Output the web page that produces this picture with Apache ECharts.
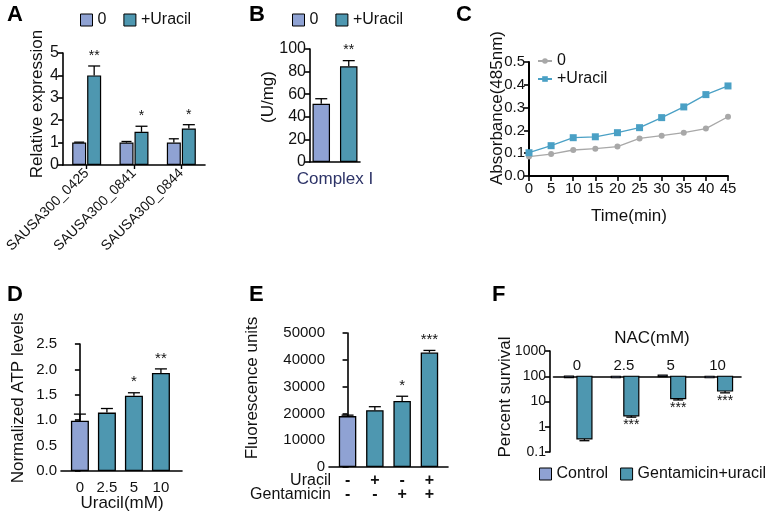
<!DOCTYPE html>
<html><head><meta charset="utf-8">
<script src="https://cdn.jsdelivr.net/npm/echarts@6/dist/echarts.min.js"></script>
<style>html,body{margin:0;padding:0;background:#fff}#c{width:770px;height:519px}</style>
</head><body><div id="c"></div>
<script>
// ---------- DATA ----------
// Panel A
const aCats = ['SAUSA300_0425', 'SAUSA300_0841', 'SAUSA300_0844'];
const aCtrl = [1.0, 1.0, 1.0];
const aCtrlErr = [0.02, 0.05, 0.17];
const aUra = [4.0, 1.48, 1.63];
const aUraErr = [0.42, 0.25, 0.17];
const aSig = ['**', '*', '*'];
// Panel B
const bCats = ['Complex I'];
const bCtrl = [51.5];
const bCtrlErr = [4.5];
const bUra = [84.7];
const bUraErr = [5.0];
const bSig = ['**'];
// Panel C
const cTime = [0, 5, 10, 15, 20, 25, 30, 35, 40, 45];
const cCtrl = [0.085, 0.096, 0.114, 0.12, 0.129, 0.165, 0.177, 0.19, 0.208, 0.26];
const cUra = [0.102, 0.133, 0.168, 0.172, 0.19, 0.212, 0.256, 0.303, 0.357, 0.395];
// Panel D
const dCats = ['0', '2.5', '5', '10'];
const dVals = [0.99, 1.15, 1.48, 1.93];
const dErr = [0.13, 0.08, 0.06, 0.08];
const dSig = ['', '', '*', '**'];
// Panel E
const eUracil = ['-', '+', '-', '+'];
const eGent = ['-', '-', '+', '+'];
const eVals = [19000, 21200, 24600, 42700];
const eErr = [350, 1300, 1800, 800];
const eSig = ['', '', '*', '***'];
// Panel F
const fCats = ['0', '2.5', '5', '10'];
const fCtrl = [102, 97, 110, 88];
const fGent = [0.33, 2.7, 13, 26];
const fGentErr = [0.05, 0.3, 1.5, 4];
const fSig = ['', '***', '***', '***'];

// ---------- STYLE ----------
const FONT = 'Liberation Sans, Arial, sans-serif';
const LIGHT = '#8fa2d3';
const TEAL = '#4e97b0';
const INK = '#111';
const AX = { lineStyle: { color: '#000', width: 1.6 } };
const TK = { show: true, length: 5, lineStyle: { color: '#000', width: 1.6 } };

function errSeries(xi, yi, xs, vals, errs, sigs, offset, dir, cap, sigSize) {
  return {
    type: 'custom', xAxisIndex: xi, yAxisIndex: yi, z: 5, silent: true,
    data: vals.map((v, i) => [xs[i], v, errs[i]]),
    renderItem(params, api) {
      const x = api.value(0), v = api.value(1), e = api.value(2);
      const p0 = api.coord([x, v]);
      const p1 = api.coord([x, dir > 0 ? v + e : v - e]);
      const cx = p0[0] + offset;
      const st = { stroke: '#000', lineWidth: 1.3 };
      const ch = [
        { type: 'line', shape: { x1: cx, y1: p0[1], x2: cx, y2: p1[1] }, style: st },
        { type: 'line', shape: { x1: cx - cap, y1: p1[1], x2: cx + cap, y2: p1[1] }, style: st }
      ];
      const s = sigs ? sigs[params.dataIndex] : '';
      if (s) ch.push({ type: 'text', x: cx, y: dir > 0 ? p1[1] - 3 : p1[1] + 1,
        style: { text: s, fontSize: sigSize, fontFamily: FONT, fill: INK, align: 'center', verticalAlign: dir > 0 ? 'bottom' : 'top' } });
      return { type: 'group', children: ch };
    }
  };
}
function fBars(name, vals, color, off, w) {
  return {
    name, type: 'custom', xAxisIndex: 5, yAxisIndex: 5, z: 3,
    itemStyle: { color },
    data: vals.map((v, i) => [i, v]),
    renderItem(params, api) {
      const x = api.value(0), v = api.value(1);
      const b = api.coord([x, 100]), p = api.coord([x, v]);
      const cx = b[0] + off;
      return { type: 'rect', shape: { x: cx - w / 2, y: Math.min(b[1], p[1]), width: w, height: Math.max(Math.abs(p[1] - b[1]), 1.5) },
        style: { fill: color, stroke: '#000', lineWidth: 1.2 } };
    }
  };
}
const lab = (size) => ({ color: INK, fontSize: size, fontFamily: FONT });
const strip = (n) => n.split('|')[1];

const chart = echarts.init(document.getElementById('c'), null, { renderer: 'canvas' });
const option = {
  animation: false,
  backgroundColor: '#fff',
  textStyle: { fontFamily: FONT, color: INK },
  grid: [
    { left: 63, top: 53, width: 142, height: 112, outerBoundsMode: 'none' },
    { left: 310, top: 49, width: 50, height: 113, outerBoundsMode: 'none' },
    { left: 529, top: 62, width: 199, height: 114, outerBoundsMode: 'none' },
    { left: 61, top: 344, width: 121, height: 127, outerBoundsMode: 'none' },
    { left: 329, top: 333, width: 119, height: 134, outerBoundsMode: 'none' },
    { left: 553.5, top: 351, width: 187.5, height: 101, outerBoundsMode: 'none' }
  ],
  xAxis: [
    { gridIndex: 0, type: 'category', data: aCats, axisLine: AX,
      axisTick: { show: true, alignWithLabel: true, length: 4, lineStyle: { color: '#000', width: 1.4 } },
      axisLabel: Object.assign(lab(14), { rotate: 45, margin: 6, interval: 0 }) },
    { gridIndex: 1, type: 'category', data: bCats, axisLine: AX, axisTick: { show: false },
      axisLabel: { color: '#2e3468', fontSize: 17, fontFamily: FONT, margin: 9 } },
    { gridIndex: 2, type: 'value', min: 0, max: 45, interval: 5, axisLine: { lineStyle: { color: '#000', width: 2 } },
      axisTick: { show: true, length: 5, lineStyle: { color: '#000', width: 1.6 } }, splitLine: { show: false },
      axisLabel: Object.assign(lab(15), { margin: 5 }) },
    { gridIndex: 3, type: 'value', min: -0.7, max: 3.78, axisLine: AX, axisTick: { show: false }, splitLine: { show: false },
      axisLabel: Object.assign(lab(15), { margin: 9, customValues: [0, 1, 2, 3], formatter: (v) => dCats[Math.round(v)] }) },
    { gridIndex: 4, type: 'value', min: -0.68, max: 3.68, axisLine: AX, axisTick: { show: false }, splitLine: { show: false },
      axisLabel: Object.assign(lab(16), { margin: 7, lineHeight: 14, fontWeight: 'bold', customValues: [0, 1, 2, 3],
        formatter: (v) => eUracil[Math.round(v)] + '\n' + eGent[Math.round(v)] }) },
    { gridIndex: 5, type: 'category', data: fCats, position: 'top', offset: -25.25,
      axisLine: { onZero: false, lineStyle: { color: '#000', width: 1.6 } }, axisTick: { show: false },
      axisLabel: Object.assign(lab(15), { margin: 3 }) }
  ],
  yAxis: [
    { gridIndex: 0, type: 'value', min: 0, max: 5, interval: 1, axisLine: Object.assign({ show: true }, AX), axisTick: TK,
      splitLine: { show: false }, axisLabel: Object.assign(lab(16), { margin: 4 }) },
    { gridIndex: 1, type: 'value', min: 0, max: 100, interval: 20, axisLine: Object.assign({ show: true }, AX), axisTick: TK,
      splitLine: { show: false }, axisLabel: Object.assign(lab(16), { margin: 4 }) },
    { gridIndex: 2, type: 'value', min: 0, max: 0.5, interval: 0.1, axisLine: { show: true, lineStyle: { color: '#000', width: 2 } }, axisTick: TK,
      splitLine: { show: false }, axisLabel: Object.assign(lab(15), { margin: 4, formatter: (v) => v.toFixed(1) }) },
    { gridIndex: 3, type: 'value', min: 0, max: 2.5, interval: 0.5, axisLine: Object.assign({ show: true }, AX), axisTick: TK,
      splitLine: { show: false }, axisLabel: Object.assign(lab(15), { margin: 4, formatter: (v) => v.toFixed(1) }) },
    { gridIndex: 4, type: 'value', min: 0, max: 50000, interval: 10000, axisLine: Object.assign({ show: true }, AX), axisTick: TK,
      splitLine: { show: false }, axisLabel: Object.assign(lab(15), { margin: 4, formatter: (v) => String(v) }) },
    { gridIndex: 5, type: 'log', logBase: 10, min: 0.1, max: 1000, offset: 3.5, axisLine: Object.assign({ show: true }, AX), axisTick: TK,
      splitLine: { show: false }, minorTick: { show: false },
      axisLabel: Object.assign(lab(14), { margin: 4, formatter: (v) => String(+(+v).toPrecision(3)) }) }
  ],
  legend: [
    { left: 80, top: 12, padding: 0, itemWidth: 12, itemHeight: 12, itemGap: 17, formatter: strip, textStyle: lab(16), selectedMode: false,
      data: [{ name: 'A|0', icon: 'rect', itemStyle: { color: LIGHT, borderColor: '#000', borderWidth: 1 } },
             { name: 'A|+Uracil', icon: 'rect', itemStyle: { color: TEAL, borderColor: '#000', borderWidth: 1 } }] },
    { left: 292, top: 12, padding: 0, itemWidth: 12, itemHeight: 12, itemGap: 17, formatter: strip, textStyle: lab(16), selectedMode: false,
      data: [{ name: 'B|0', icon: 'rect', itemStyle: { color: LIGHT, borderColor: '#000', borderWidth: 1 } },
             { name: 'B|+Uracil', icon: 'rect', itemStyle: { color: TEAL, borderColor: '#000', borderWidth: 1 } }] },
    { left: 537, top: 53, padding: 0, orient: 'vertical', itemWidth: 14, itemHeight: 7, itemGap: 2, formatter: strip, textStyle: lab(16), selectedMode: false,
      data: ['C|0', 'C|+Uracil'] },
    { left: 539, top: 466, padding: 0, width: 240, itemWidth: 12, itemHeight: 12, itemGap: 12, formatter: strip, textStyle: lab(16), selectedMode: false,
      data: [{ name: 'F|Control', icon: 'rect', itemStyle: { color: LIGHT, borderColor: '#000', borderWidth: 1 } },
             { name: 'F|Gentamicin+uracil', icon: 'rect', itemStyle: { color: TEAL, borderColor: '#000', borderWidth: 1 } }] }
  ],
  series: [
    // A
    { name: 'A|0', type: 'bar', xAxisIndex: 0, yAxisIndex: 0, data: aCtrl, barWidth: 14, barGap: '7%',
      itemStyle: { color: LIGHT, borderColor: '#000', borderWidth: 1.2 } },
    { name: 'A|+Uracil', type: 'bar', xAxisIndex: 0, yAxisIndex: 0, data: aUra, barWidth: 14, barGap: '7%',
      itemStyle: { color: TEAL, borderColor: '#000', borderWidth: 1.2 } },
    errSeries(0, 0, aCats.map((c, i) => i), aCtrl, aCtrlErr, null, -7.5, 1, 5, 14),
    errSeries(0, 0, aCats.map((c, i) => i), aUra, aUraErr, aSig, 7.5, 1, 6, 14),
    // B
    { name: 'B|0', type: 'bar', xAxisIndex: 1, yAxisIndex: 1, data: bCtrl, barWidth: 17.5, barGap: '57%',
      itemStyle: { color: LIGHT, borderColor: '#000', borderWidth: 1.2 } },
    { name: 'B|+Uracil', type: 'bar', xAxisIndex: 1, yAxisIndex: 1, data: bUra, barWidth: 17.5, barGap: '57%',
      itemStyle: { color: TEAL, borderColor: '#000', borderWidth: 1.2 } },
    errSeries(1, 1, [0], bCtrl, bCtrlErr, null, -13.75, 1, 6, 14),
    errSeries(1, 1, [0], bUra, bUraErr, bSig, 13.75, 1, 6, 14),
    // C
    { name: 'C|0', type: 'line', xAxisIndex: 2, yAxisIndex: 2, data: cTime.map((t, i) => [t, cCtrl[i]]),
      symbol: 'circle', symbolSize: 6, lineStyle: { color: '#a8a8a8', width: 1.3 }, itemStyle: { color: '#a8a8a8' } },
    { name: 'C|+Uracil', type: 'line', xAxisIndex: 2, yAxisIndex: 2, data: cTime.map((t, i) => [t, cUra[i]]),
      symbol: 'rect', symbolSize: 7, lineStyle: { color: '#4aa0c5', width: 1.3 }, itemStyle: { color: '#4aa0c5' } },
    // D
    { type: 'bar', xAxisIndex: 3, yAxisIndex: 3, barWidth: 18,
      data: dVals.map((v, i) => ({ value: [i, v], itemStyle: { color: i === 0 ? LIGHT : TEAL } })),
      itemStyle: { borderColor: '#000', borderWidth: 1.3 } },
    errSeries(3, 3, dCats.map((c, i) => i), dVals, dErr, dSig, 0, 1, 6, 15),
    // E
    { type: 'bar', xAxisIndex: 4, yAxisIndex: 4, barWidth: 17.5,
      data: eVals.map((v, i) => ({ value: [i, v], itemStyle: { color: i === 0 ? LIGHT : TEAL } })),
      itemStyle: { borderColor: '#000', borderWidth: 1.3 } },
    errSeries(4, 4, eVals.map((c, i) => i), eVals, eErr, eSig, 0, 1, 6, 15),
    // F
    fBars('F|Control', fCtrl, LIGHT, -8, 9),
    fBars('F|Gentamicin+uracil', fGent, TEAL, 7.5, 15),
    errSeries(5, 5, fCats.map((c, i) => i), fGent, fGentErr, fSig, 7.5, -1, 5, 14)
  ],
  graphic: [
    // panel letters
    { type: 'text', left: 7, top: 4, style: { text: 'A', font: 'bold 22px ' + FONT, fill: '#000' } },
    { type: 'text', left: 249, top: 4, style: { text: 'B', font: 'bold 22px ' + FONT, fill: '#000' } },
    { type: 'text', left: 456, top: 4, style: { text: 'C', font: 'bold 22px ' + FONT, fill: '#000' } },
    { type: 'text', left: 7, top: 284, style: { text: 'D', font: 'bold 22px ' + FONT, fill: '#000' } },
    { type: 'text', left: 249, top: 284, style: { text: 'E', font: 'bold 22px ' + FONT, fill: '#000' } },
    { type: 'text', left: 492, top: 284, style: { text: 'F', font: 'bold 22px ' + FONT, fill: '#000' } },
    // axis titles
    { type: 'text', x: 37, y: 104, rotation: Math.PI / 2, style: { text: 'Relative expression', font: '17px ' + FONT, fill: INK, align: 'center', verticalAlign: 'middle' } },
    { type: 'text', x: 268, y: 97, rotation: Math.PI / 2, style: { text: '(U/mg)', font: '17px ' + FONT, fill: INK, align: 'center', verticalAlign: 'middle' } },
    { type: 'text', x: 497, y: 108, rotation: Math.PI / 2, style: { text: 'Absorbance(485nm)', font: '17px ' + FONT, fill: INK, align: 'center', verticalAlign: 'middle' } },
    { type: 'text', x: 629, y: 216, style: { text: 'Time(min)', font: '17px ' + FONT, fill: INK, align: 'center', verticalAlign: 'middle' } },
    { type: 'text', x: 18, y: 398, rotation: Math.PI / 2, style: { text: 'Normalized ATP levels', font: '17px ' + FONT, fill: INK, align: 'center', verticalAlign: 'middle' } },
    { type: 'text', x: 122, y: 503, style: { text: 'Uracil(mM)', font: '17px ' + FONT, fill: INK, align: 'center', verticalAlign: 'middle' } },
    { type: 'text', x: 252, y: 388, rotation: Math.PI / 2, style: { text: 'Fluorescence units', font: '17px ' + FONT, fill: INK, align: 'center', verticalAlign: 'middle' } },
    { type: 'text', x: 331, y: 481, style: { text: 'Uracil', font: '16px ' + FONT, fill: INK, align: 'right', verticalAlign: 'middle' } },
    { type: 'text', x: 331, y: 495, style: { text: 'Gentamicin', font: '16px ' + FONT, fill: INK, align: 'right', verticalAlign: 'middle' } },
    { type: 'text', x: 505, y: 397, rotation: Math.PI / 2, style: { text: 'Percent survival', font: '17px ' + FONT, fill: INK, align: 'center', verticalAlign: 'middle' } },
    { type: 'text', x: 652, y: 338, style: { text: 'NAC(mM)', font: '17px ' + FONT, fill: INK, align: 'center', verticalAlign: 'middle' } }
  ]
};
chart.setOption(option);
</script>
</body></html>
